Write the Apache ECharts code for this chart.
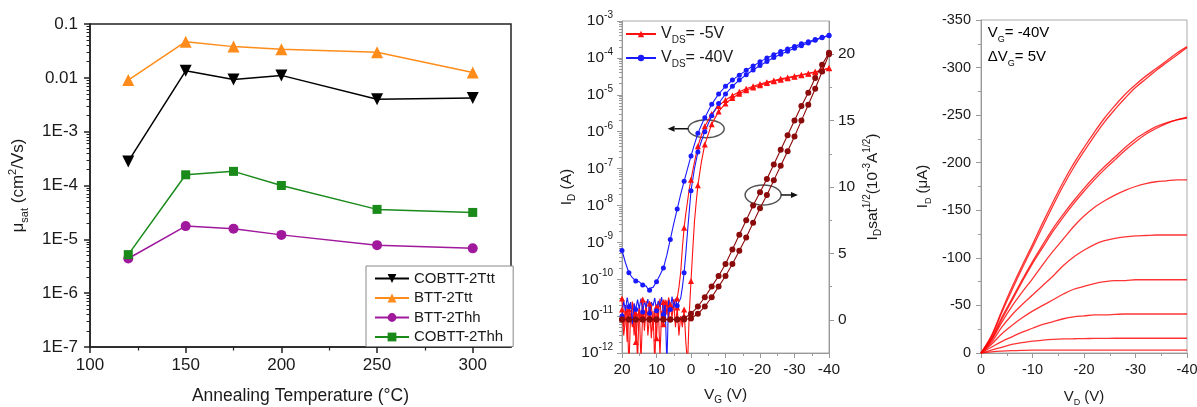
<!DOCTYPE html>
<html>
<head>
<meta charset="utf-8">
<script src="https://cdn.jsdelivr.net/npm/echarts@6/dist/echarts.min.js"></script>
<style>
  html, body { margin: 0; padding: 0; background: #fff; }
  #chart { width: 1197px; height: 407px; }
</style>
</head>
<body>
<div id="chart"></div>
<script>
// ---- panel (a): mobility vs annealing temperature
const temps = [120, 150, 175, 200, 250, 300];
const muCobttTtt = [2.8e-4, 0.0135, 0.0093, 0.0111, 0.0040, 0.0042];
const muBttTtt = [0.0091, 0.047, 0.038, 0.034, 0.030, 0.0126];
const muBttThh = [4.4e-6, 1.76e-5, 1.58e-5, 1.21e-5, 7.8e-6, 6.8e-6];
const muCobttThh = [5.2e-6, 1.58e-4, 1.83e-4, 1.0e-4, 3.6e-5, 3.16e-5];
const tempTicks = [100, 150, 200, 250, 300];
const tempMinorTicks = [125, 175, 225, 275];

// ---- panel (b): transfer curves, [V_G, I_D] pairs
const redSweepA = [[20,3e-11],[19.5,5e-12],[19,2e-11],[18.5,2e-12],[18,1.5e-11],[17.5,8e-12],[17,2.5e-11],[16.5,3e-12],
  [16,1.2e-11],[15.5,6e-13],[15,2e-11],[14.5,7e-12],[14,2.8e-11],[13.5,4e-12],[13,1.6e-11],[12.5,1e-11],[12,2.2e-11],
  [11.5,2.5e-12],[11,1.4e-11],[10.5,5e-13],[10,1.8e-11],[9.5,9e-12],[9,3e-11],[8.5,6e-12],[8,2.4e-11],[7.5,1.1e-11],
  [7,2.7e-11],[6.5,8e-12],[6,2e-11],[5.5,1.3e-11],[5,2.9e-11],[4.5,1.8e-11],[4,3e-11],[3.5,6e-11],[3,1.5e-10],
  [2.5,7e-10],[2,2.5e-9],[1.5,6e-9],[1,1.3e-8],[0.5,2.8e-8],[0,5e-8],[-1,1.5e-7],[-2,4e-7],[-3,8e-7],[-4,1.4e-6],
  [-6,3e-6],[-8,5e-6],[-10,7.2e-6],[-12,9.5e-6],[-14,1.2e-5],[-16,1.45e-5],[-18,1.7e-5],[-20,1.95e-5],[-22,2.2e-5],
  [-24,2.45e-5],[-26,2.7e-5],[-28,2.95e-5],[-30,3.2e-5],[-32,3.5e-5],[-34,3.8e-5],[-36,4.2e-5],[-38,4.7e-5],[-40,5.3e-5]];
const redSweepB = [[20,1.5e-11],[19.5,3e-12],[19,8e-12],[18.5,1.8e-11],[18,4e-13],[17.5,1.2e-11],[17,5e-12],[16.5,2.2e-11],
  [16,2e-12],[15.5,9e-12],[15,1.6e-11],[14.5,6e-13],[14,1.3e-11],[13.5,7e-12],[13,2.6e-11],[12.5,3e-12],[12,1e-11],
  [11.5,2e-11],[11,4e-12],[10.5,1.5e-11],[10,2.5e-12],[9.5,2.3e-11],[9,8e-13],[8.5,1.4e-11],[8,6e-12],[7.5,2.8e-11],
  [7,1.1e-11],[6.5,3.2e-11],[6,2e-11],[5.5,9e-12],[5,2.4e-11],[4.5,5e-12],[4,1.7e-11],[3.5,3e-12],[3,1e-11],[2.5,5e-12],
  [2,1.5e-11],[1.5,2e-12],[1,5e-13],[0.5,1.2e-11],[0,9e-11],[-0.5,6e-10],[-1,3.6e-9],[-1.5,1.2e-8],[-2,3.5e-8],
  [-3,1.5e-7],[-4,4.5e-7],[-6,1.6e-6],[-8,3.5e-6],[-10,5.8e-6],[-12,8.2e-6],[-14,1.07e-5],[-16,1.32e-5],[-18,1.57e-5],
  [-20,1.82e-5],[-22,2.07e-5],[-24,2.32e-5],[-26,2.57e-5],[-28,2.82e-5],[-30,3.08e-5],[-32,3.38e-5],[-34,3.7e-5],
  [-36,4.1e-5],[-38,4.6e-5],[-40,5.2e-5]];
const blueSweepA = [[20,6e-10],[19,2.8e-10],[18,1.5e-10],[17,1.1e-10],[16,9e-11],[15,8.5e-11],[14,7e-11],[13,6.5e-11],
  [12.5,5.5e-11],[12,5e-11],[11,6e-11],[10,8.5e-11],[9,1.3e-10],[8,2e-10],[7,4.5e-10],[6,1.2e-9],[5,3.2e-9],[4,8e-9],
  [3,2e-8],[2,4.5e-8],[1,1e-7],[0,2.2e-7],[-1,4.5e-7],[-2,9e-7],[-3,1.5e-6],[-4,2.4e-6],[-6,5.5e-6],[-8,1.05e-5],
  [-10,1.7e-5],[-12,2.5e-5],[-14,3.4e-5],[-16,4.6e-5],[-18,6e-5],[-20,7.8e-5],[-22,1e-4],[-24,1.22e-4],[-26,1.48e-4],
  [-28,1.75e-4],[-30,2.05e-4],[-32,2.4e-4],[-34,2.75e-4],[-36,3.15e-4],[-38,3.6e-4],[-40,4.1e-4]];
const blueSweepB = [[20,1e-11],[19.5,2.6e-11],[19,1.4e-11],[18.5,3.2e-11],[18,1.8e-11],[17.5,2.4e-11],[17,6e-12],
  [16.5,2.2e-11],[16,1.5e-11],[15.5,2.8e-11],[15,1.6e-11],[14.5,3e-11],[14,1.3e-11],[13.5,2.5e-11],[13,1.7e-11],
  [12.5,2.9e-11],[12,1.2e-11],[11.5,2.4e-11],[11,1.9e-11],[10.5,3.1e-11],[10,1.4e-11],[9.5,2.6e-11],[9,1.8e-11],
  [8.5,3.3e-11],[8,1.1e-11],[7.5,2.2e-11],[7,5e-13],[6.5,2.7e-11],[6,1.5e-11],[5.5,3.4e-11],[5,1.7e-11],[4.5,3e-11],
  [4,1.9e-11],[3.5,2.5e-11],[3,3e-11],[2.5,6e-11],[2,1.5e-10],[1.5,5e-10],[1,2e-9],[0.5,7e-9],[0,2.5e-8],[-1,1e-7],
  [-2,2.8e-7],[-3,5.5e-7],[-4,1e-6],[-6,2.7e-6],[-8,5.8e-6],[-10,1.05e-5],[-12,1.7e-5],[-14,2.5e-5],[-16,3.5e-5],
  [-18,4.7e-5],[-20,6.2e-5],[-22,8e-5],[-24,1.02e-4],[-26,1.26e-4],[-28,1.52e-4],[-30,1.82e-4],[-32,2.15e-4],
  [-34,2.55e-4],[-36,3e-4],[-38,3.5e-4],[-40,4e-4]];
const vgCoarse = [20,18,16,14,12,10,8,6,4,2,0,-2,-4,-6,-8,-10,-12,-14,-16,-18,-20,-22,-24,-26,-28,-30,-32,-34,-36,-38,-40];
const sqrtSweepA = [0.02,0.02,0.02,0.02,0.02,0.02,0.02,0.02,0.03,0.12,0.45,1.0,1.7,2.5,3.3,4.2,5.3,6.4,7.5,8.6,9.6,
  10.6,11.7,12.8,13.9,15.0,16.1,17.1,18.2,19.2,20.1];
const sqrtSweepB = [0.02,0.02,0.02,0.02,0.02,0.02,0.02,0.02,0.02,0.02,0.1,0.45,1.0,1.7,2.5,3.3,4.2,5.2,6.2,7.3,8.4,
  9.4,10.5,11.6,12.7,13.8,15.0,16.2,17.4,18.7,20.0];
const sqrtTicks = [0, 5, 10, 15, 20];
const sqrtMinorTicks = [2.5, 7.5, 12.5, 17.5];

// ---- panel (c): output curves, I_D (uA) vs V_D
const vd = [0,-2,-4,-6,-8,-10,-12,-14,-16,-18,-20,-22,-24,-26,-28,-30,-32,-34,-36,-38,-40];
const idVg40 = [0,-18,-44,-69,-92,-114,-137,-159,-180,-199,-216,-232,-247,-260,-272,-282,-291,-299,-307,-315,-322];
const idVg40r = [0,-17,-42,-66,-89,-111,-133,-155,-176,-195,-212,-228,-243,-256,-268,-279,-288,-297,-305,-313,-321];
const idVg35 = [0,-15,-37,-57,-77,-96,-114,-131,-146,-160,-173,-185,-196,-206,-216,-225,-232,-238,-242,-245,-248];
const idVg35r = [0,-14,-35,-55,-75,-94,-111,-128,-143,-157,-170,-182,-193,-203,-213,-222,-230,-236,-241,-245,-247];
const idVg30 = [0,-13,-32,-49,-64,-78,-93,-107,-120,-133,-144,-153,-160,-166,-171,-175,-178,-180,-181,-182,-182];
const idVg25 = [0,-11,-27,-40,-51,-61,-71,-81,-92,-101,-108,-114,-118,-120.5,-122,-123,-123.5,-124,-124,-124,-124];
const idVg20 = [0,-9,-20,-29,-37,-44,-50,-56,-62,-67,-70,-73,-75,-76,-76,-77,-77,-77,-77,-77,-77];
const idVg15 = [0,-6,-12,-17,-22,-26,-30,-33,-36,-38,-39,-40,-40,-40.5,-41,-41,-41,-41,-41,-41,-41];
const idVg10 = [0,-3,-6,-9,-11,-12.5,-13.5,-14.3,-14.8,-15,-15.2,-15.3,-15.4,-15.5,-15.5,-15.5,-15.5,-15.5,-15.5,-15.5,-15.5];
const idVg5 = [0,-1.2,-2,-2.5,-2.8,-3,-3,-3,-3,-3,-3,-3,-3,-3,-3,-3,-3,-3,-3,-3,-3];

// annotation anchors (data coordinates)
const ellipseLeft = [-4.4, 1.2e-6], arrowLeftTo = 6.8;
const ellipseRight = [-20.9, 9.4], arrowRightTo = -31;

const FONT = '"Liberation Sans", Arial, Helvetica, sans-serif';
const TXT = '#1a1a1a';
const rich = (size) => ({
  v: { fontSize: size, lineHeight: size + 6, fontFamily: FONT, color: TXT },
  s: { fontSize: Math.round(size * 0.62), lineHeight: 9, verticalAlign: 'bottom', fontFamily: FONT, color: TXT },
  p: { fontSize: Math.round(size * 0.62), lineHeight: 9, verticalAlign: 'top', fontFamily: FONT, color: TXT }
});

function logMinor(lo, hi) {
  const out = [];
  for (let e = lo; e < hi; e++) for (let m = 2; m <= 9; m++) out.push(e + Math.log10(m));
  return out;
}
function pairs(xs, ys) { return xs.map((x, i) => [x, ys[i]]); }
function every2(arr) {
  return arr.map(p => (Math.abs(p[0]) % 2 === 0) ? p : { value: p, symbol: 'none' });
}
function helperAxis(grid, pos, min, max, values, len, color, width) {
  return {
    gridIndex: grid, type: 'value', position: pos, min: min, max: max,
    axisLine: { show: false, onZero: false }, axisLabel: { show: false }, splitLine: { show: false },
    axisTick: { show: true, length: len, customValues: values, lineStyle: { color: color, width: width } }
  };
}

const chart = echarts.init(document.getElementById('chart'), null, { renderer: 'canvas' });

const darkAxis = { color: '#222', width: 1.5 };
const greyAxis = { color: '#999', width: 1 };

const option = {
  animation: false,
  backgroundColor: '#fff',
  textStyle: { fontFamily: FONT },
  grid: [
    { left: 90, top: 24, width: 421, height: 323, show: true, borderColor: '#222', borderWidth: 1.5, outerBoundsMode: 'none' },
    { left: 622, top: 21, width: 207, height: 332, show: true, borderColor: '#aaa', borderWidth: 1, outerBoundsMode: 'none' },
    { left: 981, top: 20, width: 206, height: 333, show: true, borderColor: '#aaa', borderWidth: 1, outerBoundsMode: 'none' }
  ],
  xAxis: [
    {
      gridIndex: 0, type: 'value', position: 'bottom', min: 100, max: 320,
      axisLine: { onZero: false, lineStyle: darkAxis },
      axisTick: { length: 6, customValues: tempTicks, lineStyle: darkAxis },
      axisLabel: { customValues: tempTicks, fontSize: 17, color: TXT, margin: 10, fontFamily: FONT },
      splitLine: { show: false },
      name: 'Annealing Temperature (°C)', nameLocation: 'middle', nameGap: 40,
      nameTextStyle: { fontSize: 17.5, color: TXT, fontFamily: FONT }
    },
    helperAxis(0, 'bottom', 100, 320, tempMinorTicks, 3.5, '#222', 1.2),
    {
      gridIndex: 1, type: 'value', position: 'bottom', min: -40, max: 20, interval: 10, inverse: true,
      axisLine: { onZero: false, lineStyle: greyAxis },
      axisTick: { length: 5, lineStyle: greyAxis },
      minorTick: { show: true, splitNumber: 2, length: 3, lineStyle: greyAxis },
      axisLabel: { fontSize: 15.5, color: TXT, margin: 9, fontFamily: FONT },
      splitLine: { show: false },
      name: '{v|V}{s|G}{v| (V)}', nameLocation: 'middle', nameGap: 31,
      nameTextStyle: { rich: rich(15.5) }
    },
    {
      gridIndex: 2, type: 'value', position: 'bottom', min: -40, max: 0, interval: 10, inverse: true,
      axisLine: { onZero: false, lineStyle: greyAxis },
      axisTick: { length: 5, lineStyle: greyAxis },
      minorTick: { show: true, splitNumber: 2, length: 3, lineStyle: greyAxis },
      axisLabel: { fontSize: 14.5, color: TXT, margin: 9, fontFamily: FONT },
      splitLine: { show: false },
      name: '{v|V}{s|D}{v| (V)}', nameLocation: 'middle', nameGap: 33,
      nameTextStyle: { rich: rich(15) }
    }
  ],
  yAxis: [
    {
      gridIndex: 0, type: 'log', logBase: 10, position: 'left', min: 1e-7, max: 0.1,
      axisLine: { onZero: false, lineStyle: darkAxis },
      axisTick: { length: 6, lineStyle: darkAxis },
      axisLabel: {
        fontSize: 17, color: TXT, margin: 12, fontFamily: FONT,
        formatter: v => { const e = Math.round(Math.log10(v)); return e === -1 ? '0.1' : e === -2 ? '0.01' : '1E' + e; }
      },
      splitLine: { show: false },
      name: '{v|μ}{s|sat}{v| (cm}{p|2}{v|/Vs)}', nameLocation: 'middle', nameGap: 60,
      nameTextStyle: { rich: rich(17) }
    },
    helperAxis(0, 'left', -7, -1, logMinor(-7, -1), 3.5, '#222', 1),
    {
      gridIndex: 1, type: 'log', logBase: 10, position: 'left', min: 1e-12, max: 1e-3,
      axisLine: { onZero: false, lineStyle: greyAxis },
      axisTick: { length: 5, lineStyle: greyAxis },
      axisLabel: {
        color: TXT, margin: 9,
        formatter: v => '{v|10}{p|' + Math.round(Math.log10(v)) + '}',
        rich: rich(15.5)
      },
      splitLine: { show: false },
      name: '{v|I}{s|D}{v| (A)}', nameLocation: 'middle', nameGap: 44,
      nameTextStyle: { rich: rich(15.5) }
    },
    helperAxis(1, 'left', -12, -3, logMinor(-12, -3), 3, '#999', 1),
    {
      gridIndex: 1, type: 'value', position: 'right', min: -2.5, max: 22.5,
      axisLine: { show: true, onZero: false, lineStyle: greyAxis },
      axisTick: { show: true, length: 5, customValues: sqrtTicks, lineStyle: greyAxis },
      axisLabel: { customValues: sqrtTicks, fontSize: 15.5, color: TXT, margin: 9, fontFamily: FONT },
      splitLine: { show: false },
      name: '{v|I}{s|D}{v|sat}{p|1/2}{v|(10}{p|-3}{v|A}{p|1/2}{v|)}', nameLocation: 'middle', nameGap: 33,
      nameTextStyle: { rich: rich(15.5), padding: [0, 0, 0, 0] }
    },
    helperAxis(1, 'right', -2.5, 22.5, sqrtMinorTicks, 3, '#999', 1),
    {
      gridIndex: 2, type: 'value', position: 'left', min: -350, max: 0, interval: 50, inverse: true,
      axisLine: { onZero: false, lineStyle: greyAxis },
      axisTick: { length: 5, lineStyle: greyAxis },
      minorTick: { show: true, splitNumber: 2, length: 3, lineStyle: greyAxis },
      axisLabel: { fontSize: 14.5, color: TXT, margin: 10, fontFamily: FONT },
      splitLine: { show: false },
      name: '{v|I}{s|D}{v| (μA)}', nameLocation: 'middle', nameGap: 48,
      nameTextStyle: { rich: rich(15) }
    }
  ],
  legend: [
    {
      data: ['COBTT-2Ttt', 'BTT-2Ttt', 'BTT-2Thh', 'COBTT-2Thh'],
      orient: 'vertical', left: 366, top: 266, padding: [5, 10, 2, 8], itemGap: 4.5,
      itemWidth: 34, itemHeight: 11, backgroundColor: '#fff', borderColor: '#888', borderWidth: 1,
      textStyle: { fontSize: 15, color: TXT, fontFamily: FONT }
    },
    {
      data: ['-5V', '-40V'],
      orient: 'vertical', left: 625, top: 26, padding: 0, itemGap: 5,
      itemWidth: 30, itemHeight: 8,
      formatter: n => '{v|V}{s|DS}{v|= ' + n + '}',
      textStyle: { rich: rich(16) }
    }
  ],
  series: [
    { type: 'line', name: 'COBTT-2Ttt', xAxisIndex: 0, yAxisIndex: 0, data: pairs(temps, muCobttTtt),
      symbol: 'triangle', symbolRotate: 180, symbolSize: 12, color: '#000', lineStyle: { width: 1.5 } },
    { type: 'line', name: 'BTT-2Ttt', xAxisIndex: 0, yAxisIndex: 0, data: pairs(temps, muBttTtt),
      symbol: 'triangle', symbolSize: 12, color: '#ff8c1a', lineStyle: { width: 1.5 } },
    { type: 'line', name: 'BTT-2Thh', xAxisIndex: 0, yAxisIndex: 0, data: pairs(temps, muBttThh),
      symbol: 'circle', symbolSize: 10, color: '#a0189c', lineStyle: { width: 1.5 } },
    { type: 'line', name: 'COBTT-2Thh', xAxisIndex: 0, yAxisIndex: 0, data: pairs(temps, muCobttThh),
      symbol: 'rect', symbolSize: 9, color: '#1a8a1a', lineStyle: { width: 1.5 } },

    { type: 'line', name: '-5V', xAxisIndex: 2, yAxisIndex: 2, data: every2(redSweepA),
      symbol: 'triangle', symbolSize: 6, color: '#ff1010', lineStyle: { width: 1.1 } },
    { type: 'line', name: '-5V', xAxisIndex: 2, yAxisIndex: 2, data: every2(redSweepB),
      symbol: 'triangle', symbolSize: 6, color: '#ff1010', lineStyle: { width: 1.1 } },
    { type: 'line', name: '-40V', xAxisIndex: 2, yAxisIndex: 2, data: every2(blueSweepA),
      symbol: 'circle', symbolSize: 5, color: '#1a1aff', lineStyle: { width: 1.1 } },
    { type: 'line', name: '-40V', xAxisIndex: 2, yAxisIndex: 2, data: every2(blueSweepB),
      symbol: 'circle', symbolSize: 5, color: '#1a1aff', lineStyle: { width: 1.1 } },
    { type: 'line', name: 'sqrtA', xAxisIndex: 2, yAxisIndex: 4, data: pairs(vgCoarse, sqrtSweepA),
      symbol: 'circle', symbolSize: 6, color: '#8b0a0a', lineStyle: { width: 1.1 } },
    { type: 'line', name: 'sqrtB', xAxisIndex: 2, yAxisIndex: 4, data: pairs(vgCoarse, sqrtSweepB),
      symbol: 'circle', symbolSize: 6, color: '#8b0a0a', lineStyle: { width: 1.1 } }
  ].concat([idVg40, idVg40r, idVg35, idVg35r, idVg30, idVg25, idVg20, idVg15, idVg10, idVg5].map(ys => ({
    type: 'line', xAxisIndex: 3, yAxisIndex: 6, data: pairs(vd, ys), smooth: 0.35, showSymbol: false,
    lineStyle: { color: 'rgba(255,0,0,0.8)', width: 1.3 }, silent: true
  })))
};

chart.setOption(option);

// annotations placed from data coordinates
const pL = chart.convertToPixel({ xAxisIndex: 2, yAxisIndex: 2 }, ellipseLeft);
const pLto = chart.convertToPixel({ xAxisIndex: 2, yAxisIndex: 2 }, [arrowLeftTo, ellipseLeft[1]]);
const pR = chart.convertToPixel({ xAxisIndex: 2, yAxisIndex: 4 }, ellipseRight);
const pRto = chart.convertToPixel({ xAxisIndex: 2, yAxisIndex: 4 }, [arrowRightTo, ellipseRight[1]]);
const pT1 = chart.convertToPixel({ xAxisIndex: 3, yAxisIndex: 6 }, [-1.3, -336]);
const pT2 = chart.convertToPixel({ xAxisIndex: 3, yAxisIndex: 6 }, [-1.3, -311]);
const rx = 18, ry = 9, head = 7;

function arrow(fromX, toX, y) {
  const dir = toX < fromX ? -1 : 1;
  return [
    { type: 'line', shape: { x1: fromX, y1: y, x2: toX - dir * head, y2: y }, style: { stroke: '#111', lineWidth: 1.5 } },
    { type: 'polygon', shape: { points: [[toX, y], [toX - dir * head, y - 3], [toX - dir * head, y + 3]] }, style: { fill: '#111' } }
  ];
}

chart.setOption({
  graphic: [
    { type: 'ellipse', shape: { cx: pL[0], cy: pL[1], rx: rx, ry: ry }, style: { fill: 'none', stroke: '#555', lineWidth: 1.5 } },
    { type: 'ellipse', shape: { cx: pR[0], cy: pR[1], rx: rx, ry: ry + 1 }, style: { fill: 'none', stroke: '#555', lineWidth: 1.5 } }
  ].concat(arrow(pL[0] - rx, pLto[0], pL[1]), arrow(pR[0] + rx, pRto[0], pR[1]), [
    { type: 'text', x: pT1[0], y: pT1[1], style: { text: '{v|V}{s|G}{v|= -40V}', rich: rich(15), verticalAlign: 'middle' } },
    { type: 'text', x: pT2[0], y: pT2[1], style: { text: '{v|ΔV}{s|G}{v|= 5V}', rich: rich(15), verticalAlign: 'middle' } }
  ])
});
</script>
</body>
</html>
